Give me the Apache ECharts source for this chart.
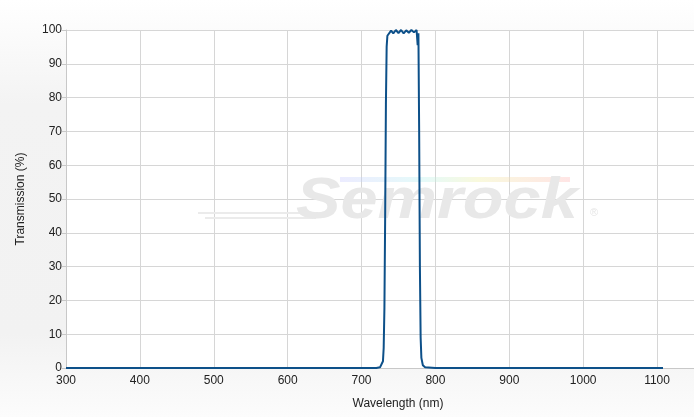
<!DOCTYPE html>
<html>
<head>
<meta charset="utf-8">
<script src="https://cdn.jsdelivr.net/npm/echarts@6/dist/echarts.min.js"></script>
<style>
  html, body { margin: 0; padding: 0; }
  #chart { width: 694px; height: 417px; }
</style>
</head>
<body>
<div id="chart"></div>
<script>
// 데이터
var wavelength = [300, 700, 720, 725, 727, 729, 730, 731, 732, 733, 734, 735, 737, 740, 743, 746.5, 750, 753.5, 757, 760.5, 764, 767.5, 771, 773, 774.5, 775.5, 776, 777, 778, 779, 780, 781, 783, 786, 800, 1108];
var transmission = [0, 0, 0, 0.2, 0.6, 2, 6, 18, 45, 78, 95, 98.3, 98.8, 99.8, 99.0, 100, 99.1, 100, 99.0, 99.9, 99.2, 100, 99.3, 99.4, 100, 99.6, 95.5, 99, 70, 30, 9, 3, 0.8, 0.2, 0, 0];
var yTicks = [0, 100, 10];
var xTicks = [300, 1150, 100];

var seriesData = wavelength.map(function(w, i){ return [w, transmission[i]] });

var dom = document.getElementById('chart');
var myChart = echarts.init(dom, null, { renderer: 'canvas' });

var option = {
    animation: false,
    backgroundColor: {
        type: 'linear', x: 0, y: 0, x2: 0, y2: 1,
        colorStops: [
            { offset: 0, color: '#ffffff' },
            { offset: 0.25, color: '#f3f3f3' },
            { offset: 0.8, color: '#f2f2f2' },
            { offset: 1, color: '#fcfcfc' }
        ]
    },
    grid: {
        left: 66, right: 0, top: 30, bottom: 49,
        show: true, backgroundColor: '#ffffff', borderWidth: 0
    },
    xAxis: {
        type: 'value',
        min: xTicks[0], max: xTicks[1], interval: xTicks[2],
        name: 'Wavelength (nm)',
        nameLocation: 'middle',
        nameGap: 30,
        nameTextStyle: { color: '#222', fontSize: 12, fontFamily: 'Liberation Sans', padding: [0, 0, 0, 36] },
        axisLine: { show: true, lineStyle: { color: '#c8c8c8', width: 1 } },
        axisTick: { show: false },
        axisLabel: {
            color: '#222', fontSize: 12, fontFamily: 'Liberation Sans', margin: 7, showMaxLabel: false,
            formatter: function(v){ return String(v) }
        },
        splitLine: { show: true, lineStyle: { color: '#d6d6d6', width: 1 } }
    },
    yAxis: {
        type: 'value',
        min: yTicks[0], max: yTicks[1], interval: yTicks[2],
        name: 'Transmission (%)',
        nameLocation: 'middle',
        nameGap: 39,
        nameTextStyle: { color: '#222', fontSize: 12, fontFamily: 'Liberation Sans' },
        axisLine: { show: true, lineStyle: { color: '#c8c8c8', width: 1 } },
        axisTick: { show: true, length: 4, lineStyle: { color: '#c8c8c8' } },
        axisLabel: { color: '#222', fontSize: 12, fontFamily: 'Liberation Sans', margin: 4 },
        splitLine: { show: true, lineStyle: { color: '#d6d6d6', width: 1 } }
    },
    graphic: [
        // 워터마크
        { type: 'line', z: 1, shape: { x1: 198, y1: 213, x2: 318, y2: 213 }, style: { stroke: '#ebebeb', lineWidth: 2 } },
        { type: 'line', z: 1, shape: { x1: 205, y1: 218, x2: 316, y2: 218 }, style: { stroke: '#ebebeb', lineWidth: 2 } },
        { type: 'rect', z: 1, shape: { x: 340, y: 177, width: 230, height: 5 },
          style: { fill: { type: 'linear', x: 0, y: 0, x2: 1, y2: 0, colorStops: [
            { offset: 0, color: 'rgba(200,200,255,0.35)' },
            { offset: 0.35, color: 'rgba(180,240,240,0.35)' },
            { offset: 0.6, color: 'rgba(240,240,170,0.4)' },
            { offset: 1, color: 'rgba(255,190,190,0.4)' }] } } },
        { type: 'text', z: 1, x: 296, y: 173, scaleX: 1.15,
          style: { text: 'Semrock', fill: '#e8e8e8', font: 'italic bold 58px "Liberation Sans"' } },
        { type: 'text', z: 1, x: 590, y: 207,
          style: { text: '®', fill: '#e6e6e6', font: '11px "Liberation Sans"' } }
    ],
    series: [{
        type: 'line',
        data: seriesData,
        showSymbol: false,
        smooth: false,
        z: 5,
        lineStyle: { color: '#0d5089', width: 2 }
    }]
};
myChart.setOption(option, true);
</script>
</body>
</html>
